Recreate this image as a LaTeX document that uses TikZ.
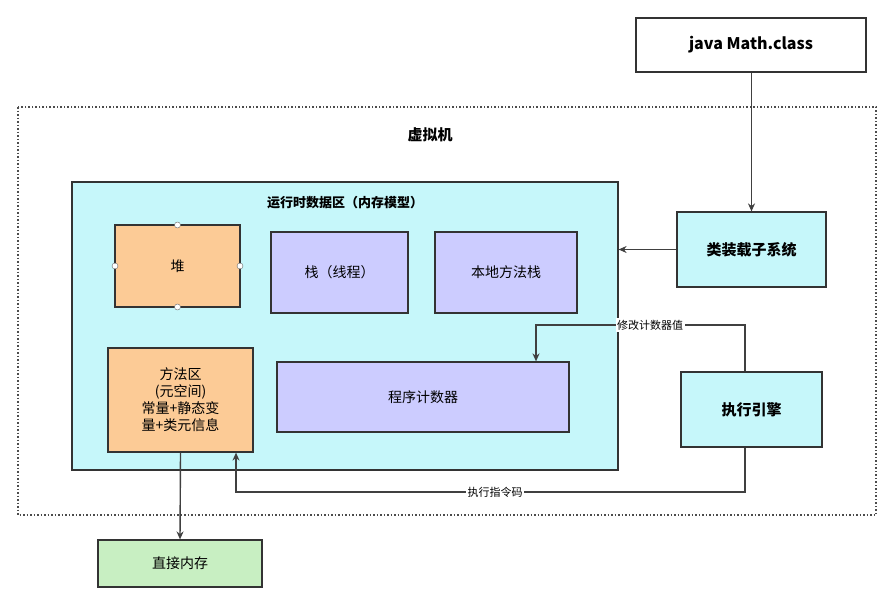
\documentclass[tikz,border=0pt]{standalone}
\usepackage{fontspec}
\setmainfont{Noto Sans CJK SC}
\usetikzlibrary{arrows.meta}
\definecolor{cy}{HTML}{C6F7FA}
\definecolor{org}{HTML}{FCCB96}
\definecolor{lav}{HTML}{CCCCFF}
\definecolor{grn}{HTML}{C8EFC2}
\begin{document}
\begin{tikzpicture}[x=1pt,y=-1pt,
  box/.style={draw=black!80,line width=1.2pt,inner sep=0pt},
  lbl/.style={fill=white,inner sep=1.5pt,font=\fontsize{11}{13}\selectfont},
  arr/.style={draw=black!75,line width=1.4pt,-{Stealth[length=8pt,width=7pt]}},
  handle/.style={circle,draw=black!60,fill=white,inner sep=0pt,minimum size=6pt}]
\useasboundingbox (0,0) rectangle (891,597);
\fill[white] (0,0) rectangle (891,597);
\draw[black!70,line width=1.5pt,dotted] (18,107) rectangle (876,515);
\node[font=\bfseries\fontsize{15}{18}\selectfont] (vm) at (430,135) {虚拟机};
\node[box,fill=white,minimum width=230pt,minimum height=54pt,font=\bfseries\fontsize{16}{19}\selectfont] (java) at (751,45) {java Math.class};
\node[box,fill=cy,minimum width=546pt,minimum height=288pt] (rt) at (345,326) {};
\node[font=\bfseries\fontsize{13}{16}\selectfont] (rtt) at (345,203) {运行时数据区（内存模型）};
\node[box,fill=org,minimum width=125pt,minimum height=82pt,font=\fontsize{14}{17}\selectfont] (heap) at (177.5,266) {堆};
\foreach \p in {(115,266),(240,266),(177.5,225),(177.5,307)} \node[handle] at \p {};
\node[box,fill=lav,minimum width=137pt,minimum height=81pt,font=\fontsize{14}{17}\selectfont] (stk) at (339.5,272.5) {栈（线程）};
\node[box,fill=lav,minimum width=142pt,minimum height=81pt,font=\fontsize{14}{17}\selectfont] (nstk) at (506,272.5) {本地方法栈};
\node[box,fill=org,minimum width=145pt,minimum height=104pt,align=center,font=\fontsize{14}{17}\selectfont] (ma) at (180.5,400) {方法区\\(元空间)\\常量+静态变\\量+类元信息};
\node[box,fill=lav,minimum width=292pt,minimum height=70pt,font=\fontsize{14}{17}\selectfont] (pc) at (423,397) {程序计数器};
\node[box,fill=cy,minimum width=149pt,minimum height=75pt,font=\bfseries\fontsize{15}{18}\selectfont] (cl) at (751.5,249.5) {类装载子系统};
\node[box,fill=cy,minimum width=141pt,minimum height=75pt,font=\bfseries\fontsize{15}{18}\selectfont] (ee) at (751.5,409.5) {执行引擎};
\node[box,fill=grn,minimum width=164pt,minimum height=47pt,font=\fontsize{14}{17}\selectfont] (dm) at (180,563.5) {直接内存};
\draw[arr] (java.south -| cl.north) -- (cl.north);
\draw[arr] (cl.west) -- (cl.west -| rt.east);
\coordinate (c1) at (745,325);
\coordinate (c2) at (536,325);
\draw[arr] (ee.north -| c1) -- (c1) -- (c2) -- (c2 |- pc.north);
\node[lbl] (l1) at (650,325) {修改计数器值};
\coordinate (d1) at (745,492);
\coordinate (d2) at (236,492);
\draw[arr] (ee.south -| d1) -- (d1) -- (d2) -- (d2 |- ma.south);
\node[lbl] (l2) at (495,492) {执行指令码};
\draw[arr] (ma.south) -- (dm.north);
\end{tikzpicture}
\end{document}
